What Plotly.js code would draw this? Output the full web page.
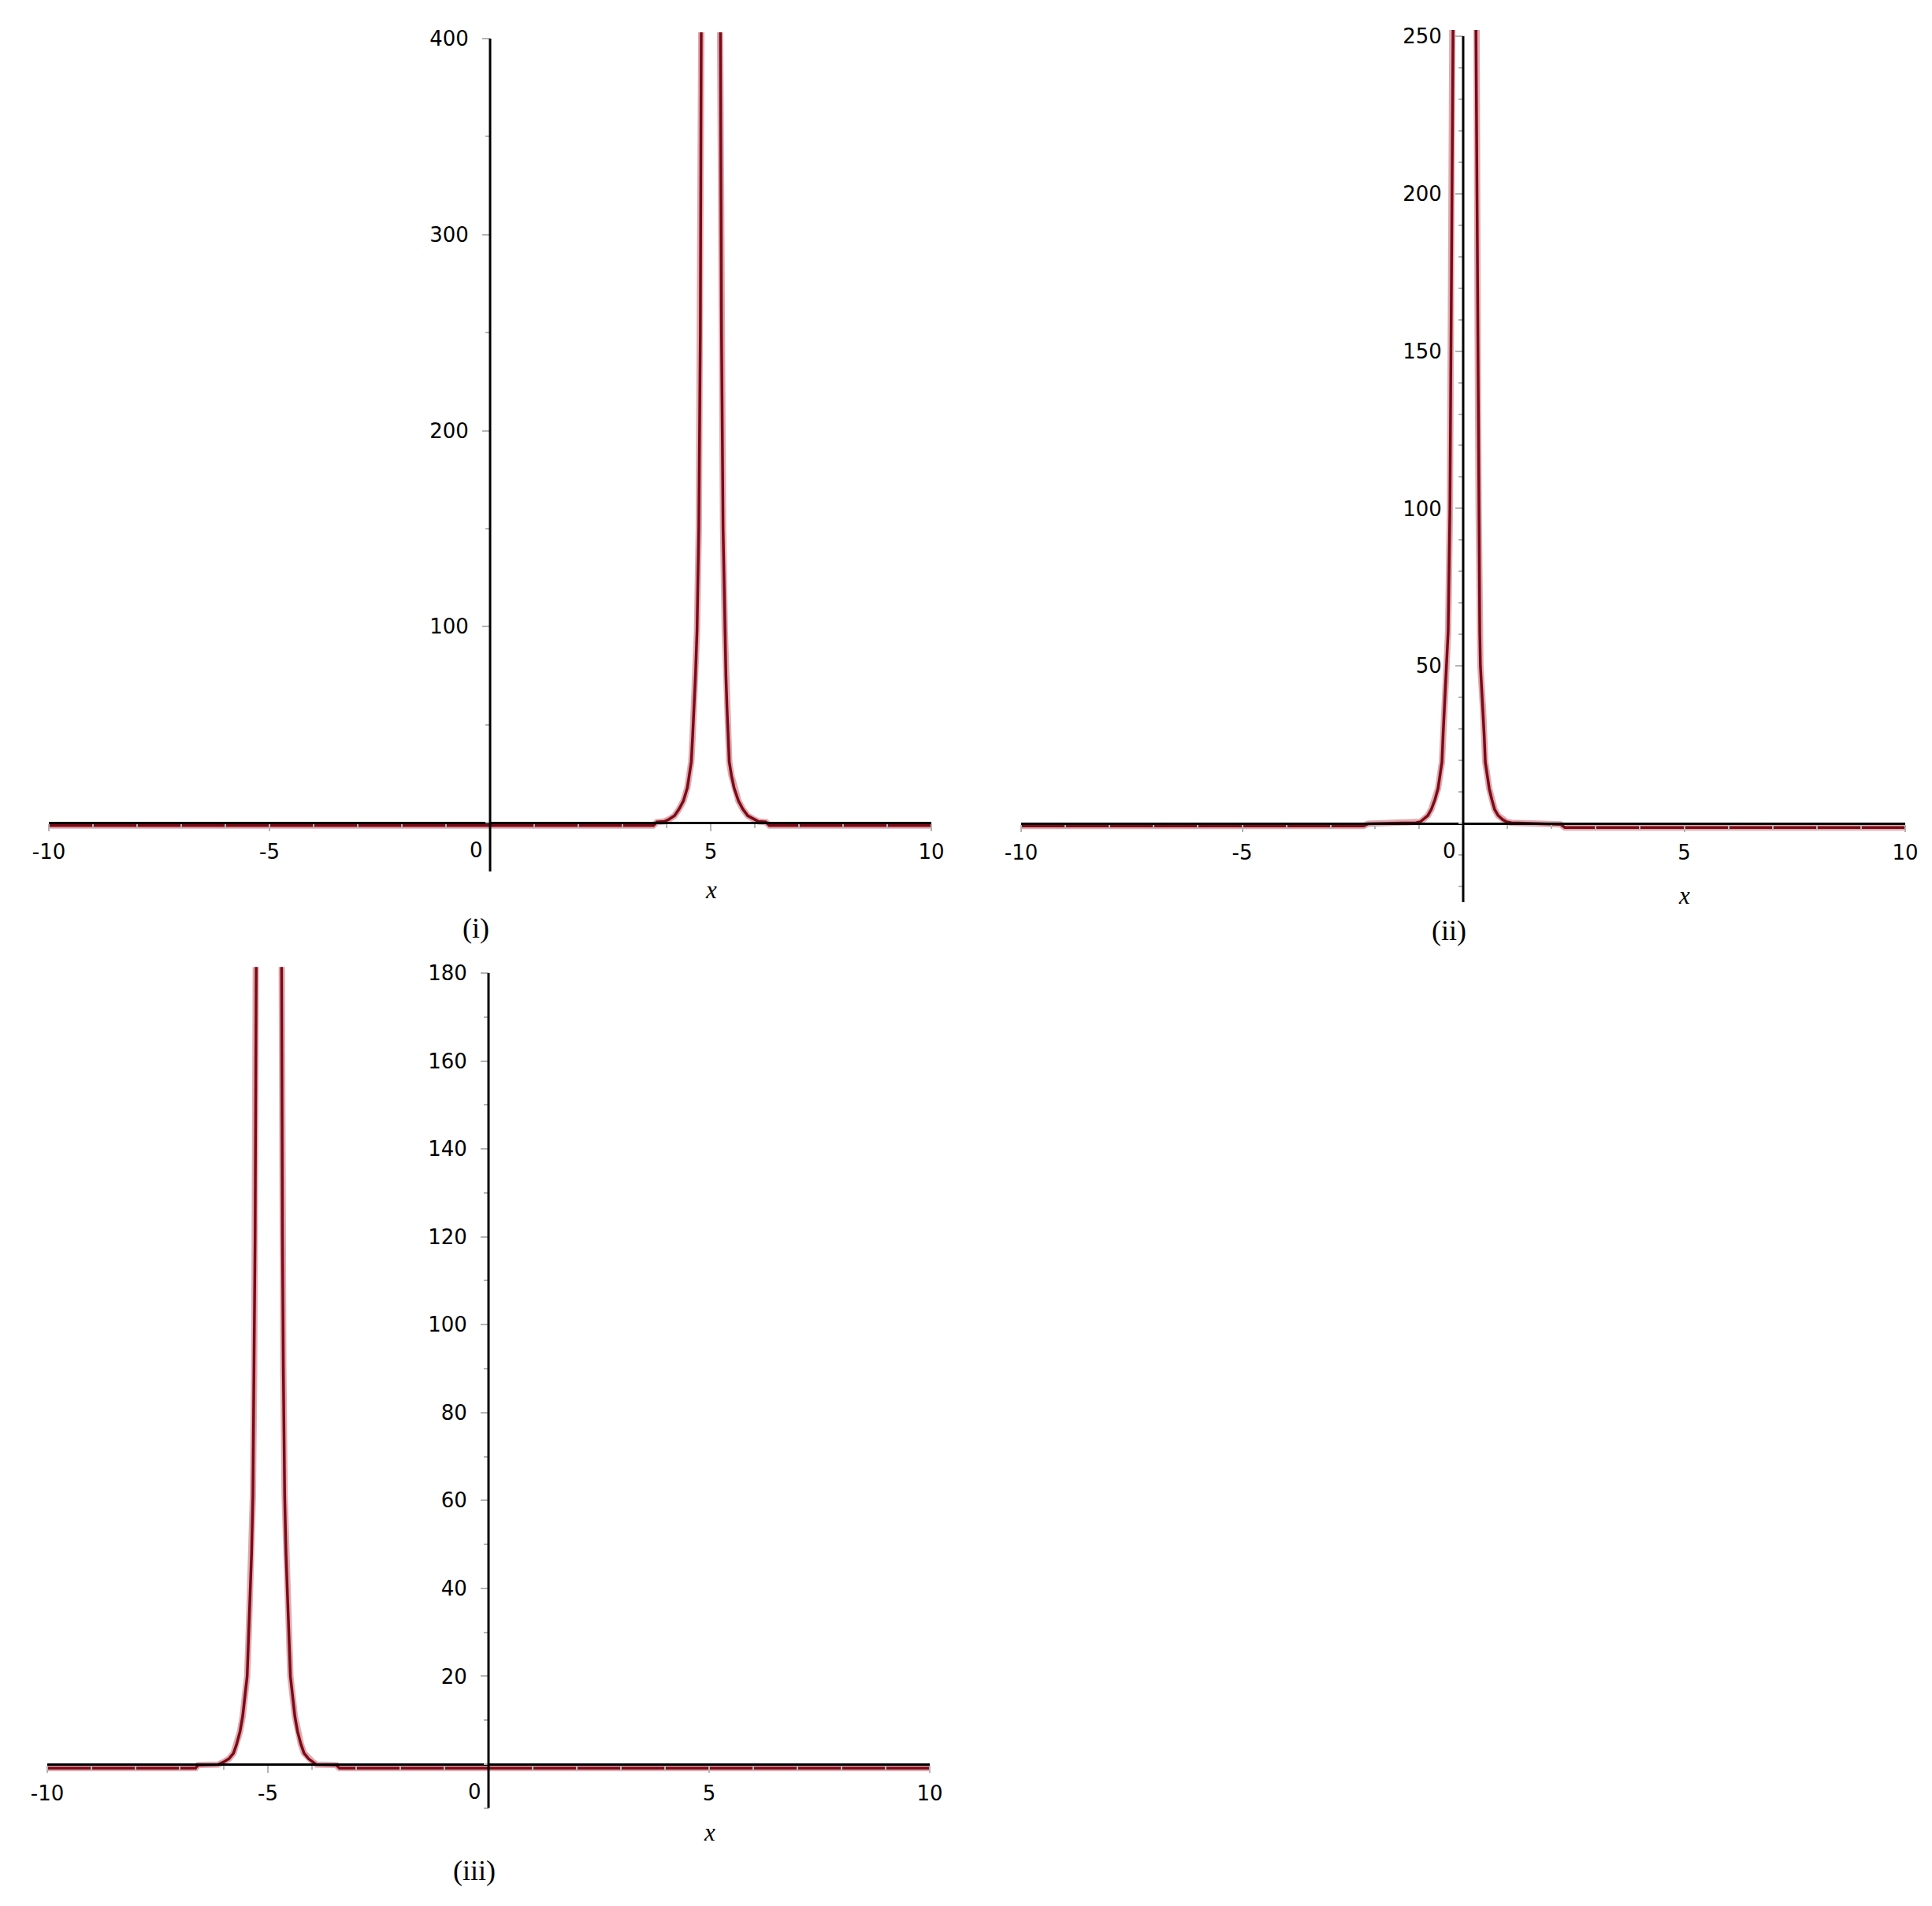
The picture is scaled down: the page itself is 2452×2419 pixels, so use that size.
<!DOCTYPE html>
<html>
<head>
<meta charset="utf-8">
<script src="https://cdn.plot.ly/plotly-3.0.1.min.js"></script>
<style>
  html, body { margin:0; padding:0; background:#fff; }
  #chart { width:2452px; height:2419px; }
</style>
</head>
<body>
<div id="chart"></div>
<script>

/* ==========================================
   DATA
========================================== */

const xTickVals = [-10, -5, 0, 5, 10];
const xTickText = ["-10", "-5", "", "5", "10"];

const yTicks1 = [100, 200, 300, 400];
const yTicks2 = [50, 100, 150, 200, 250];
const yTicks3 = [20, 40, 60, 80, 100, 120, 140, 160, 180];

const panelLabels = ["(i)", "(ii)", "(iii)"];

// (i) spike near x = 5
const x1 = [-10, 3.70, 3.78, 3.95, 4.05, 4.18, 4.28, 4.38, 4.47, 4.52, 4.56, 4.59, 4.62, 4.655, 4.69, 4.73, 4.765, 4.786, 4.80,
            5.20, 5.214, 5.245, 5.28, 5.32, 5.345, 5.37, 5.395, 5.42, 5.47, 5.53, 5.63, 5.73, 5.84, 5.98, 6.08, 6.25, 6.33, 10];
const y1 = [-1.5, -1.5, 0.3, 0.6, 1.6, 3.5, 6.8, 11, 17.7, 24, 31, 44, 58, 75, 98, 150, 250, 400, 520,
            520, 400, 250, 150, 98, 75, 58, 44, 31, 24, 17.7, 11, 6.8, 3.5, 1.6, 0.6, 0.3, -1.5, -1.5];

// (ii) spike near x = 0
const x2 = [-10, -2.25, -2.15, -1.07, -0.97, -0.90, -0.80, -0.72, -0.64, -0.57, -0.48, -0.455, -0.43, -0.375, -0.34, -0.30, -0.28, -0.25, -0.23, -0.22,
            0.285, 0.29, 0.31, 0.33, 0.35, 0.375, 0.39, 0.45, 0.475, 0.50, 0.59, 0.65, 0.71, 0.79, 0.89, 0.98, 1.09, 2.20, 2.30, 10];
const y2 = [-0.8, -0.8, -0.1, 0.2, 0.5, 1.25, 2.5, 4.5, 7.5, 11, 19.5, 28, 36, 50, 61, 100, 150, 200, 250, 320,
            320, 250, 200, 150, 100, 61, 50, 36, 28, 19.5, 11, 7.5, 4.5, 2.5, 1.25, 0.5, 0.2, -0.3, -1.3, -1.3];

// (iii) spike near x = -5
const x3 = [-10, -6.64, -6.58, -6.13, -6.00, -5.88, -5.78, -5.71, -5.63, -5.57, -5.47, -5.44, -5.41, -5.37, -5.34, -5.31, -5.29, -5.265, -5.255,
            -4.705, -4.695, -4.67, -4.65, -4.62, -4.59, -4.55, -4.52, -4.49, -4.39, -4.33, -4.25, -4.18, -4.08, -3.98, -3.90, -3.45, -3.38, 10];
const y3 = [-0.9, -0.9, -0.2, -0.1, 0.5, 1.25, 2.5, 4.5, 7.5, 11, 20, 28, 36, 48, 61, 90, 120, 180, 230,
            230, 180, 120, 90, 61, 48, 36, 28, 20, 11, 7.5, 4.5, 2.5, 1.25, 0.5, -0.1, -0.2, -0.9, -0.9];


/* ==========================================
   PAGE GEOMETRY (pixels of the 2452x2419 page)
========================================== */

const W = 2452;
const H = 2419;

const panels = [
    { ox:622,  oy:1044, px:56,   py:2.4875, ymin:-25, ytop:400, yclip:403.2, minorY:50,
      xs:x1, ys:y1, ticks:yTicks1, xLabShift:-85, labShift:-134 },
    { ox:1857, oy:1045, px:56.1, py:3.996,  ymin:-25, ytop:250, yclip:252,   minorY:10,
      xs:x2, ys:y2, ticks:yTicks2, xLabShift:-92, labShift:-136 },
    { ox:620,  oy:2239, px:56,   py:5.578,  ymin:-10, ytop:180, yclip:181.4, minorY:10,
      xs:x3, ys:y3, ticks:yTicks3, xLabShift:-86, labShift:-135 }
];

const curveColor = "#7d0a14";
const haloColor = "rgba(175,45,65,0.4)";
const tickGrey = "#b4b4b4";


/* ==========================================
   BUILD
========================================== */

function drawPanels(){

    let traces = [];
    let layout = {
        width:W,
        height:H,
        margin:{l:0, r:0, t:0, b:0},
        paper_bgcolor:"#fff",
        plot_bgcolor:"rgba(0,0,0,0)",
        showlegend:false,
        shapes:[],
        annotations:[]
    };

    panels.forEach((p, i)=>{

        const n = i === 0 ? "" : String(i + 1);
        const xa = "x" + n;
        const ya = "y" + n;

        traces.push({
            x:p.xs, y:p.ys, xaxis:xa, yaxis:ya,
            type:"scatter", mode:"lines",
            line:{color:haloColor, width:8},
            hoverinfo:"skip"
        });

        traces.push({
            x:p.xs, y:p.ys, xaxis:xa, yaxis:ya,
            type:"scatter", mode:"lines",
            line:{color:curveColor, width:3.5},
            hoverinfo:"skip"
        });

        const left = (p.ox - 10 * p.px) / W;
        const right = (p.ox + 10 * p.px) / W;
        const bottom = 1 - (p.oy - p.ymin * p.py) / H;
        const top = 1 - (p.oy - p.yclip * p.py) / H;

        layout["xaxis" + n] = {
            domain:[left, right],
            range:[-10, 10],
            anchor:"free",
            position:1 - p.oy / H,
            showgrid:false,
            zeroline:false,
            showline:true,
            linecolor:"#000",
            linewidth:3,
            tickmode:"array",
            tickvals:xTickVals,
            ticktext:xTickText,
            ticks:"outside",
            ticklen:9,
            tickwidth:2,
            tickcolor:tickGrey,
            minor:{dtick:1, tick0:0, ticks:"outside", ticklen:5, tickwidth:2, tickcolor:tickGrey, showgrid:false},
            tickfont:{family:"DejaVu Sans", size:26, color:"#000"},
            ticklabelstandoff:4,
            fixedrange:true
        };

        layout["yaxis" + n] = {
            domain:[bottom, top],
            range:[p.ymin, p.yclip],
            anchor:"free",
            position:p.ox / W,
            showgrid:false,
            zeroline:false,
            showline:false,
            tickmode:"array",
            tickvals:p.ticks,
            ticks:"outside",
            ticklen:10,
            tickwidth:2,
            tickcolor:tickGrey,
            minor:{dtick:p.minorY, tick0:0, ticks:"outside", ticklen:6, tickwidth:2, tickcolor:tickGrey, showgrid:false},
            tickfont:{family:"DejaVu Sans", size:26, color:"#000"},
            ticklabelstandoff:12,
            fixedrange:true
        };

        // y axis line, stops at the top tick
        layout.shapes.push({
            type:"line", xref:xa, yref:ya,
            x0:0, x1:0, y0:p.ymin, y1:p.ytop,
            line:{color:"#000", width:3}
        });

        // "0" of the x axis, sits left of the y axis
        layout.annotations.push({
            xref:xa, yref:ya, x:0, y:0,
            xshift:-18, yshift:-35,
            text:"0", showarrow:false,
            font:{family:"DejaVu Sans", size:26, color:"#000"}
        });

        // axis name
        layout.annotations.push({
            xref:xa, yref:ya, x:5, y:0,
            yshift:p.xLabShift,
            text:"<i>x</i>", showarrow:false,
            font:{family:"Liberation Serif", size:31, color:"#000"}
        });

        // panel caption
        layout.annotations.push({
            xref:xa, yref:ya, x:0, y:0,
            xshift:-18, yshift:p.labShift,
            text:panelLabels[i], showarrow:false,
            font:{family:"Liberation Serif", size:36, color:"#000"}
        });

    });

    Plotly.newPlot("chart", traces, layout, {staticPlot:true, displayModeBar:false});

}

drawPanels();

</script>
</body>
</html>
